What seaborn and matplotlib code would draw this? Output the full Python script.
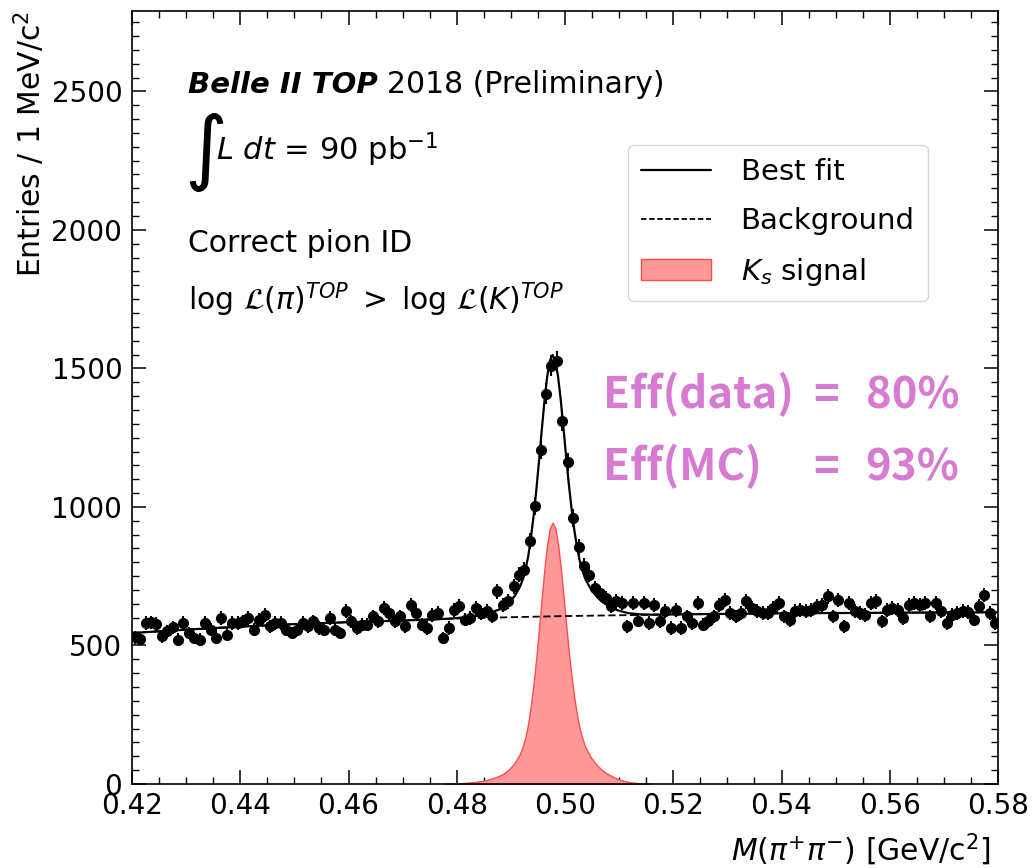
import numpy as np
import pandas as pd
import matplotlib
matplotlib.use("Agg")
import matplotlib.pyplot as plt
import seaborn as sns
from matplotlib.ticker import MultipleLocator
from matplotlib.patches import Patch
from matplotlib.lines import Line2D

# ---------------- data ----------------
bin_low = 0.420          # GeV/c^2, first bin lower edge
bin_width = 0.001        # 1 MeV bins

counts_a = [530, 525, 581, 583, 578, 533, 551, 566, 521, 581, 545, 527, 521, 581,
            557, 527, 599, 539, 581, 581, 587, 599, 557, 593, 611, 569, 581, 581,
            557, 545, 557, 581, 569, 587, 563, 557]
counts_b = [599, 557, 545, 623, 587, 563, 575, 575, 605, 587, 635, 617, 587, 605,
            569, 647, 617, 575, 563, 611, 617, 527, 563, 629, 641, 593, 599, 635,
            617, 623, 605]
counts_peak = [695, 647, 659, 713, 756, 774, 878, 1003, 1207, 1409, 1510, 1525,
               1310, 1162, 960, 854, 786, 756, 707, 690, 671, 641]
counts_c = [659, 653, 569, 653, 590, 653, 581, 647, 587, 623, 563, 629, 563, 605,
            581, 653, 575, 587, 605, 647, 665, 617, 605, 617, 659, 635, 623, 617,
            617, 635, 653, 605, 592, 623]
counts_d = [629, 623, 629, 641, 647, 677, 605, 665, 569, 653, 623, 617, 611, 653,
            659, 587, 629, 635, 629, 599, 647, 653, 647, 653, 605, 653, 623, 581,
            611, 617, 623, 620, 593, 641, 683, 617, 581]
counts = counts_a + counts_b + counts_peak + counts_c + counts_d

# background fit curve
bg_mass = [0.42, 0.43, 0.44, 0.45, 0.46, 0.47, 0.48, 0.49, 0.50, 0.51, 0.52,
           0.53, 0.54, 0.55, 0.56, 0.57, 0.58]
bg_level = [545, 557, 568, 577, 584, 590, 597, 602, 606, 609, 612, 614, 616,
            617, 618, 619, 620]

# K_s signal fit curve (offset from peak in MeV, entries)
sig_center = 0.4977
sig_offset = [-20, -18, -16, -14, -12, -10, -9, -8, -7, -6, -5.5, -5, -4.5, -4,
              -3.5, -3, -2.5, -2, -1.5, -1, -0.5, 0, 0.5, 1, 1.5, 2, 2.5, 3, 3.5,
              4, 4.5, 5, 5.5, 6, 7, 8, 9, 10, 12, 14, 16, 18]
sig_level = [0.5, 1.5, 4, 8, 15, 28, 38, 54, 76, 110, 136, 171, 219, 285, 365,
             458, 563, 673, 778, 865, 923, 943, 923, 867, 782, 682, 576, 476, 388,
             312, 250, 200, 165, 135, 98, 72, 52, 38, 18, 7, 2.5, 0.5]

legend_labels = ["Best fit", "Background", "$K_s$ signal"]

# ---------------- build tables ----------------
centers = bin_low + bin_width * (np.arange(len(counts)) + 0.5)
df_data = pd.DataFrame({"mass": centers, "entries": counts})
sig_mass = sig_center + np.array(sig_offset) / 1000.0
x_fit = np.union1d(np.array(bg_mass), sig_mass)
bg_fit = np.interp(x_fit, bg_mass, bg_level)
sig_fit = np.interp(x_fit, sig_mass, sig_level, left=0, right=0)
df_fit = pd.DataFrame({"mass": x_fit, "bg": bg_fit, "total": bg_fit + sig_fit})

# ---------------- style ----------------
sns.set_theme(style="ticks")
plt.rcParams["font.family"] = ["DejaVu Sans"]
plt.rcParams["mathtext.fontset"] = "dejavusans"
for key in ["text.color", "axes.labelcolor", "xtick.color", "ytick.color",
            "axes.edgecolor"]:
    plt.rcParams[key] = "black"

fig = plt.figure(figsize=(10.34, 8.68), dpi=100)
ax = fig.add_axes([0.1277, 0.0968, 0.8375, 0.8905])

sig_face = (1.0, 0.6, 0.6)
sig_edge = (1.0, 0.3, 0.3)
ax.fill_between(sig_mass, 0, sig_level, facecolor=sig_face, edgecolor=sig_edge,
                linewidth=1.0, zorder=1)
sns.lineplot(data=df_fit, x="mass", y="bg", ax=ax, color="black", linewidth=1.3,
             linestyle=(0, (4, 2)), zorder=2)
sns.lineplot(data=df_fit, x="mass", y="total", ax=ax, color="black", linewidth=1.6,
             zorder=3)
ax.errorbar(df_data["mass"], df_data["entries"], yerr=np.sqrt(df_data["entries"]),
            fmt="o", color="black", markersize=7, elinewidth=1.5, capsize=0,
            zorder=5)

ax.set_xlim(0.42, 0.58)
ax.set_ylim(0, 2790)
ax.xaxis.set_major_locator(MultipleLocator(0.02))
ax.xaxis.set_minor_locator(MultipleLocator(0.005))
ax.yaxis.set_major_locator(MultipleLocator(500))
ax.yaxis.set_minor_locator(MultipleLocator(50))
ax.tick_params(which="both", direction="in", top=True, right=True,
               colors="black", labelsize=20)
ax.tick_params(which="major", length=10, width=1.1)
ax.tick_params(which="minor", length=5, width=1.0)
ax.tick_params(axis="x", which="major", pad=6)
ax.tick_params(axis="y", which="major", pad=7)
for s in ax.spines.values():
    s.set_linewidth(1.2)
    s.set_color("black")

ax.set_ylabel("Entries / 1 MeV/c$^2$", loc="top", fontsize=21.5, labelpad=3)
ax.set_xlabel(r"$M(\pi^{+}\pi^{-})$ [GeV/c$^2$]", loc="right", fontsize=21.5,
              labelpad=7)
ax.xaxis.set_label_coords(0.992, -0.062)

# legend
handles = [Line2D([], [], color="black", linewidth=1.6),
           Line2D([], [], color="black", linewidth=1.3, linestyle=(0, (3, 1.5))),
           Patch(facecolor=sig_face, edgecolor=sig_edge)]
leg = ax.legend(handles, legend_labels, loc="upper left",
                bbox_to_anchor=(0.573, 0.827), borderaxespad=0, fontsize=21,
                handlelength=2.4, handletextpad=1.0, labelspacing=0.72,
                borderpad=0.45, frameon=True, fancybox=True)
leg.get_frame().set_edgecolor("#cccccc")
leg.get_frame().set_linewidth(1.0)

# annotations
t1 = ax.text(0.0647, 0.894, "Belle II TOP", transform=ax.transAxes, fontsize=21,
             fontweight="bold", fontstyle="italic", va="baseline")
fig.canvas.draw()
bb = t1.get_window_extent(fig.canvas.get_renderer())
x2 = ax.transAxes.inverted().transform((bb.x1 + 9, 0))[0]
ax.text(x2, 0.894, "2018 (Preliminary)", transform=ax.transAxes, fontsize=21.5,
        va="baseline")
ax.text(0.0600, 0.816, r"$\int$", transform=ax.transAxes, fontsize=42,
        va="center")
ax.text(0.0975, 0.807, r"$L\ dt$ = 90 pb$^{-1}$", transform=ax.transAxes,
        fontsize=22, va="baseline")
ax.text(0.0647, 0.688, "Correct pion ID", transform=ax.transAxes, fontsize=21.5,
        va="baseline")
ax.text(0.0647, 0.613,
        r"$\log\,\mathcal{L}(\pi)^{TOP}\;>\;\log\,\mathcal{L}(K)^{TOP}$",
        transform=ax.transAxes, fontsize=21.5, va="baseline")

pink = "#D77BD2"
eff_font = dict(transform=ax.transAxes, color=pink, fontweight="bold",
                family=["Noto Sans CJK SC", "DejaVu Sans"], va="baseline",
                fontsize=31.5)
ax.text(0.544, 0.486, "Eff(data)", **eff_font)
ax.text(0.787, 0.486, "=", **eff_font)
ax.text(0.847, 0.486, "80%", **eff_font)
ax.text(0.544, 0.393, "Eff(MC)", **eff_font)
ax.text(0.787, 0.393, "=", **eff_font)
ax.text(0.847, 0.393, "93%", **eff_font)

fig.savefig("out.png", dpi=100)
